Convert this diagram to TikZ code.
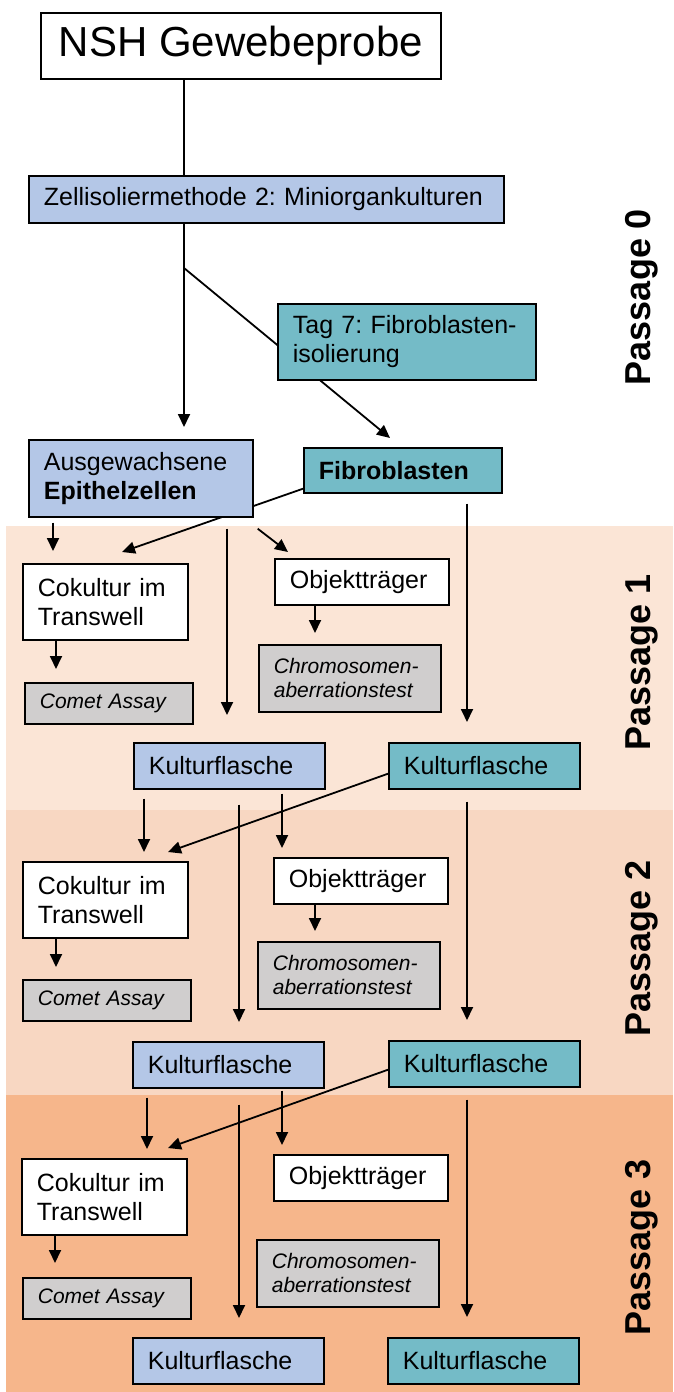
\documentclass[tikz,border=0pt]{standalone}
\usepackage{fontspec}
\setmainfont{Liberation Sans}
\frenchspacing
\usetikzlibrary{arrows.meta,calc}
\definecolor{epiblue}{RGB}{180,199,231}
\definecolor{fibteal}{RGB}{116,187,199}
\definecolor{testgray}{RGB}{208,206,206}
\definecolor{bandone}{RGB}{251,229,214}
\definecolor{bandtwo}{RGB}{248,215,194}
\definecolor{bandthree}{RGB}{246,182,139}
\pgfdeclarelayer{bands}
\pgfdeclarelayer{lines}
\pgfsetlayers{bands,lines,main}

\begin{document}
\begin{tikzpicture}[x = 1pt, y = -1pt,
  box/.style = {draw, line width = 1.7pt, anchor = north west, inner xsep = 15pt, inner ysep = 0pt, align = left, font = \fontsize{25pt}{29pt}\selectfont},
  testbox/.style = {box, fill = testgray, font = \fontsize{21pt}{24pt}\selectfont\itshape},
  conn/.style = {line width = 1.8pt},
  arr/.style = {conn, -{Triangle[length = 13pt, width = 12pt]}},
  passlbl/.style = {rotate = 90, font = \fontsize{36pt}{40pt}\selectfont\bfseries}]
\useasboundingbox (0,0) rectangle (673,1392);
\begin{pgfonlayer}{bands}
\fill[bandone] (6,526) rectangle (673,810);
\fill[bandtwo] (6,810) rectangle (673,1095);
\fill[bandthree] (6,1095) rectangle (673,1392);
\end{pgfonlayer}
% passage 0
\node [box, inner xsep = 0pt, align = center, minimum width = 400pt, minimum height = 66pt, font = \fontsize{42pt}{48pt}\selectfont] (nsh) at (40,12) {NSH Gewebeprobe};
\node [box, fill = epiblue, text width = 445pt, minimum height = 47pt] (zell) at (28,175) {Zellisoliermethode 2: Miniorgankulturen};
\node [box, fill = fibteal, text width = 228pt, minimum height = 76pt] (tag) at (277,303) {Tag 7: Fibroblasten-\\isolierung};
\node [box, fill = epiblue, text width = 194pt, minimum height = 77pt] (epi) at (28,439) {Ausgewachsene\\\textbf{Epithelzellen}};
\node [box, fill = fibteal, text width = 168pt, minimum height = 45pt, font = \fontsize{25pt}{29pt}\selectfont\bfseries] (fib) at (303,447) {Fibroblasten};
\coordinate (split) at (184,268);
% passage 1
\node [box, fill = white, text width = 135pt, minimum height = 76pt] (cok1) at (22,563) {Cokultur im\\Transwell};
\node [testbox, text width = 138pt, minimum height = 41pt] (com1) at (24,682) {Comet Assay};
\node [box, fill = white, text width = 144pt, minimum height = 46pt] (obj1) at (274,558) {Objektträger};
\node [testbox, text width = 152pt, minimum height = 67pt] (chr1) at (258,644) {Chromosomen-\\aberrationstest};
\node [box, fill = epiblue, text width = 161pt, minimum height = 46pt] (kb1) at (133,742) {Kulturflasche};
\node [box, fill = fibteal, text width = 161pt, minimum height = 46pt] (kt1) at (388,742) {Kulturflasche};
% passage 2
\node [box, fill = white, text width = 135pt, minimum height = 76pt] (cok2) at (22,861) {Cokultur im\\Transwell};
\node [testbox, text width = 138pt, minimum height = 41pt] (com2) at (22,979) {Comet Assay};
\node [box, fill = white, text width = 144pt, minimum height = 46pt] (obj2) at (273,857) {Objektträger};
\node [testbox, text width = 152pt, minimum height = 67pt] (chr2) at (257,941) {Chromosomen-\\aberrationstest};
\node [box, fill = epiblue, text width = 161pt, minimum height = 46pt] (kb2) at (132,1041) {Kulturflasche};
\node [box, fill = fibteal, text width = 161pt, minimum height = 46pt] (kt2) at (388,1040) {Kulturflasche};
% passage 3
\node [box, fill = white, text width = 135pt, minimum height = 76pt] (cok3) at (21,1158) {Cokultur im\\Transwell};
\node [testbox, text width = 138pt, minimum height = 41pt] (com3) at (22,1277) {Comet Assay};
\node [box, fill = white, text width = 144pt, minimum height = 46pt] (obj3) at (273,1154) {Objektträger};
\node [testbox, text width = 152pt, minimum height = 67pt] (chr3) at (256,1239) {Chromosomen-\\aberrationstest};
\node [box, fill = epiblue, text width = 161pt, minimum height = 46pt] (kb3) at (132,1337) {Kulturflasche};
\node [box, fill = fibteal, text width = 161pt, minimum height = 46pt] (kt3) at (387,1337) {Kulturflasche};
% labels on the right
\node [passlbl] (p0) at (642,297) {Passage 0};
\node [passlbl] (p1) at (642,662) {Passage 1};
\node [passlbl] (p2) at (642,948) {Passage 2};
\node [passlbl] (p3) at (642,1247) {Passage 3};
\begin{pgfonlayer}{lines}
\draw[conn] (nsh.south -| split) -- (zell.north -| split);
\draw[arr] (zell.south -| split) -- ($(epi.north -| split)+(0,-12)$);
\draw[arr] (split) -- ($(fib.north west)+(87,-9)$);
\draw[arr] ($(fib.south west)+(0,-5)$) -- ($(cok1.north west)+(100,-11)$);
% passage 1
\draw[arr] ($(epi.south west)+(25,5)$) -- ($(cok1.north west)+(31,-12)$);
\draw[arr] ($(epi.south west)+(199,11)$) -- ($(kb1.north west)+(94,-27)$);
\draw[arr] ($(epi.south east)+(4,11)$) -- ($(obj1.north west)+(14,-6)$);
\draw[arr] ($(fib.south west)+(164,10)$) -- ($(kt1.north west)+(79,-20)$);
\draw[arr] ($(cok1.south west)+(34,0)$) -- ($(com1.north west)+(32,-13)$);
\draw[arr] ($(obj1.south west)+(41,0)$) -- ($(chr1.north west)+(57,-11)$);
% passage 2
\draw[arr] ($(kb1.south west)+(11,9)$) -- ($(cok2.north west)+(122,-9)$);
\draw[arr] ($(kt1.south west)+(0,-16)$) -- ($(cok2.north west)+(146,-9)$);
\draw[arr] ($(kb1.south west)+(106,15)$) -- ($(kb2.north west)+(107,-19)$);
\draw[arr] ($(kb1.south west)+(149,4)$) -- ($(obj2.north west)+(9,-9)$);
\draw[arr] ($(kt1.south west)+(79,12)$) -- ($(kt2.north west)+(79,-20)$);
\draw[arr] ($(cok2.south west)+(34,0)$) -- ($(com2.north west)+(34,-12)$);
\draw[arr] ($(obj2.south west)+(42,0)$) -- ($(chr2.north west)+(58,-10)$);
% passage 3
\draw[arr] ($(kb2.south west)+(15,9)$) -- ($(cok3.north west)+(126,-9)$);
\draw[arr] ($(kt2.south west)+(0,-18)$) -- ($(cok3.north west)+(147,-10)$);
\draw[arr] ($(kb2.south west)+(107,16)$) -- ($(kb3.north west)+(107,-19)$);
\draw[arr] ($(kb2.south west)+(150,2)$) -- ($(obj3.north west)+(9,-9)$);
\draw[arr] ($(kt2.south west)+(79,12)$) -- ($(kt3.north west)+(80,-20)$);
\draw[arr] ($(cok3.south west)+(34,0)$) -- ($(com3.north west)+(33,-14)$);
\end{pgfonlayer}
\end{tikzpicture}
\end{document}
